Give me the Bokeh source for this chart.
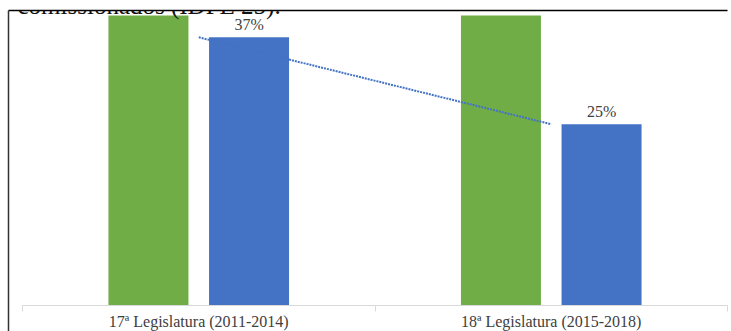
import numpy as np
from bokeh.plotting import figure
from bokeh.models import Range1d, LinearAxis, FixedTicker, Label
from bokeh.core.properties import value
from bokeh.embed import file_html
from bokeh.resources import INLINE

# ---- data ----
categories = ["17ª Legislatura (2011-2014)", "18ª Legislatura (2015-2018)"]
green_values = [40, 40]          # green bars run past the top of the chart (clipped at axis max)
blue_values = [37, 25]
blue_labels = ["37%", "25%"]
y_axis_max = 40
heading = "comissionados (IDPE 25)."

# ---- style / geometry ----
GREEN = "#70AD47"
BLUE = "#4472C4"
FONT = "Liberation Serif"
W, H = 731, 331
FRAME_L, FRAME_T = 8, 10
CAT0_PX = 22.0
PX_PER_CAT = 352.5
ZERO_PX = 305.0
PX_PER_UNIT = 7.25

x_start = (FRAME_L - CAT0_PX) / PX_PER_CAT
x_end = (W - CAT0_PX) / PX_PER_CAT
y_end = (ZERO_PX - FRAME_T) / PX_PER_UNIT
y_start = (ZERO_PX - H) / PX_PER_UNIT

n = len(categories)
centers = np.arange(n) + 0.5
offset = 50.3 / PX_PER_CAT
bar_w = 80.0 / PX_PER_CAT

p = figure(width=W, height=H,
           x_range=Range1d(x_start, x_end), y_range=Range1d(y_start, y_end),
           output_backend="svg", toolbar_location=None,
           x_axis_location=None, y_axis_location=None,
           min_border_left=FRAME_L, min_border_top=FRAME_T,
           min_border_right=0, min_border_bottom=0,
           outline_line_color=None,
           background_fill_color="white", border_fill_color="white")
p.grid.visible = False

# bars
green_tops = np.minimum(green_values, y_axis_max)
p.vbar(x=centers - offset, top=green_tops, bottom=0, width=bar_w,
       fill_color=GREEN, line_color=None)
p.vbar(x=centers + offset, top=blue_values, bottom=0, width=bar_w,
       fill_color=BLUE, line_color=None)

# linear trendline of the blue series (at category centres)
coef = np.polyfit(centers, blue_values, 1)
p.line(x=centers, y=np.polyval(coef, centers), line_color=BLUE,
       line_width=2, line_dash="2 1")

# data labels
p.text(x=centers + offset, y=blue_values, text=blue_labels,
       text_align="center", text_baseline="bottom", y_offset=-4,
       text_font=value(FONT), text_font_size=value("16px"), text_color="#404040")

# category axis (baseline at y=0)
xaxis = LinearAxis(ticker=FixedTicker(ticks=list(centers), minor_ticks=list(range(n + 1))),
                   major_label_overrides={float(c): cat for c, cat in zip(centers, categories)},
                   fixed_location=0, bounds=(0, n),
                   axis_line_color="#D9D9D9", axis_line_width=1,
                   major_tick_line_color=None, major_tick_out=0, major_tick_in=0,
                   minor_tick_line_color="#D9D9D9", minor_tick_out=6, minor_tick_in=0,
                   major_label_text_font=FONT, major_label_text_font_size="16px",
                   major_label_text_color="#404040", major_label_standoff=1)
p.add_layout(xaxis, "below")

def frame_axis(**kw):
    return LinearAxis(ticker=FixedTicker(ticks=[]), major_tick_out=0, major_tick_in=0,
                      minor_tick_out=0, minor_tick_in=0, major_label_standoff=0,
                      major_label_text_font_size="0px", **kw)

p.add_layout(frame_axis(axis_line_color="#333333", axis_line_width=1.5), "left")
p.add_layout(frame_axis(axis_line_color="black", axis_line_width=1.5, bounds=(x_start, n)), "above")

# cut-off document text above the chart
p.add_layout(Label(x=9, y=H - 5, x_units="screen", y_units="screen", text=heading,
                   text_font=FONT, text_font_size="25px", text_color="#111111",
                   text_baseline="alphabetic"))

open("out.html", "w").write(file_html(p, INLINE))
